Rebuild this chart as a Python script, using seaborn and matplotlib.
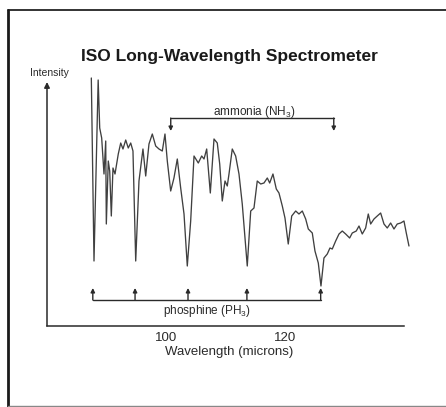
import numpy as np
import matplotlib
matplotlib.use("Agg")
import matplotlib.pyplot as plt
from matplotlib.lines import Line2D
import seaborn as sns

# spectrum (wavelength in microns, intensity in arbitrary units)
wavelength = [87.45, 87.9, 88.6, 88.86, 89.19, 89.58, 89.87, 89.97, 90.30, 90.54,
              90.81, 91.09, 91.43, 91.98, 92.39, 92.77, 93.23, 93.66, 94.07, 94.45,
              94.91, 95.46, 96.13, 96.59, 97.14, 97.70, 98.27, 98.82, 99.38, 99.83,
              100.22, 100.79, 101.34, 101.90, 102.47, 103.03, 103.58, 104.15, 104.71, 105.43,
              106.0, 106.39, 106.84, 107.45, 108.07, 108.62, 109.03, 109.46, 109.92, 110.30,
              110.59, 111.14, 111.71, 112.27, 112.82, 113.66, 114.24, 114.79, 115.34, 115.92,
              116.47, 117.03, 117.43, 117.98, 118.54, 118.99, 119.55, 120.0, 120.55, 121.13,
              121.80, 122.35, 122.91, 123.48, 123.92, 124.59, 125.04, 125.60, 126.05, 126.55,
              127.11, 127.56, 127.95, 128.52, 129.08, 129.63, 130.20, 130.87, 131.31, 131.98,
              132.44, 132.99, 133.56, 134.0, 134.40, 134.96, 135.51, 136.08, 136.64, 137.19,
              137.76, 138.32, 138.87, 139.45, 140.0, 140.39, 140.84]
intensity = [248, 65, 246, 198, 188, 152, 185, 102, 165, 155,
             110, 158, 152, 172, 183, 177, 186, 178, 183, 175,
             65, 145, 177, 150, 182, 192, 180, 177, 175, 192,
             165, 135, 148, 167, 138, 112, 60, 105, 170, 163,
             170, 167, 177, 133, 187, 183, 162, 125, 145, 140,
             152, 177, 170, 152, 122, 60, 115, 118, 145, 142,
             143, 148, 143, 152, 137, 133, 120, 108, 82, 110,
             115, 112, 115, 107, 97, 93, 75, 63, 40, 68,
             72, 78, 77, 85, 92, 95, 92, 88, 93, 95,
             100, 92, 98, 112, 102, 107, 110, 113, 102, 98,
             103, 97, 102, 103, 105, 93, 80]

phosphine_lines = [87.7, 94.8, 103.7, 113.6, 126.0]
ammonia_lines = [100.8, 128.2]
x_ticks = [85, 90, 95, 100, 105, 110, 115, 120, 125, 130, 135, 140]
x_labels = ["", "", "", "100", "", "", "", "120", "", "", "", ""]

sns.set_style("white")
plt.rcParams["font.family"] = ["Liberation Sans", "DejaVu Sans"]
plt.rcParams["mathtext.default"] = "regular"
INK = "#2a2a2a"

fig = plt.figure(figsize=(4.46, 4.07), dpi=100)
ax = fig.add_axes([47 / 446, 81 / 407, 365 / 446, 260 / 407])

sns.lineplot(x=wavelength, y=intensity, ax=ax, color="#404040", lw=0.95)
ax.set_xlim(80, 141.35)
ax.set_ylim(0, 260)

# axes: bottom spine only, y axis drawn as an arrow
for s in ["top", "right", "left"]:
    ax.spines[s].set_visible(False)
ax.spines["bottom"].set_bounds(80, 140)
ax.spines["bottom"].set_color(INK)
ax.spines["bottom"].set_linewidth(1.1)
ax.annotate("", xy=(80, 244), xytext=(80, 0), annotation_clip=False,
            arrowprops=dict(arrowstyle="-|>", lw=1.1, color=INK, mutation_scale=8, shrinkA=0, shrinkB=0))
ax.set_yticks([])
ax.set_xticks(x_ticks)
ax.set_xticklabels(x_labels, fontsize=9.5, color=INK)
ax.tick_params(axis="x", direction="in", length=3, width=0.9, color=INK, pad=4)
ax.set_xlabel("Wavelength (microns)", fontsize=9.5, color=INK, labelpad=2)
ax.text(80.4, 253, "Intensity", fontsize=7.5, color=INK, ha="center", va="center", clip_on=False)

# phosphine markers (arrows pointing up from a bracket)
ax.plot([phosphine_lines[0], phosphine_lines[-1]], [26, 26], color=INK, lw=1.0)
for w in phosphine_lines:
    ax.annotate("", xy=(w, 38), xytext=(w, 26),
                arrowprops=dict(arrowstyle="-|>", lw=1.0, color=INK, mutation_scale=6, shrinkA=0, shrinkB=0))
ax.text(106.9, 15, "phosphine (PH$_3$)", fontsize=8.5, color=INK, ha="center", va="center")

# ammonia markers (arrows pointing down from a bracket)
ax.plot([ammonia_lines[0], ammonia_lines[-1]], [208, 208], color=INK, lw=1.0)
for w in ammonia_lines:
    ax.annotate("", xy=(w, 195), xytext=(w, 208),
                arrowprops=dict(arrowstyle="-|>", lw=1.0, color=INK, mutation_scale=6, shrinkA=0, shrinkB=0))
ax.text(114.8, 214, "ammonia (NH$_3$)", fontsize=8.5, color=INK, ha="center", va="center")

fig.text(229.5 / 446, 1 - 57 / 407, "ISO Long-Wavelength Spectrometer",
         fontsize=12.5, fontweight="bold", color="#1a1a1a", ha="center", va="center")

# scanned page frame: top and left edges dark, bottom faint, no right edge
fig.lines.append(Line2D([8 / 446, 1], [1 - 10 / 407, 1 - 10 / 407], transform=fig.transFigure,
                        color="#333333", lw=1.4))
fig.lines.append(Line2D([8 / 446, 8 / 446], [0, 1 - 10 / 407], transform=fig.transFigure,
                        color="#1a1a1a", lw=2.0))
fig.lines.append(Line2D([8 / 446, 1], [1.5 / 407, 1.5 / 407], transform=fig.transFigure,
                        color="#888888", lw=1.0))

plt.savefig("out.png", dpi=100)
plt.close()
